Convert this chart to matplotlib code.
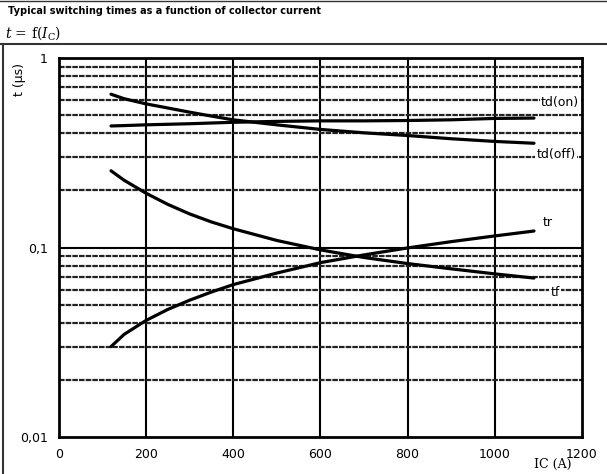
import matplotlib
matplotlib.use("Agg")
import matplotlib.pyplot as plt
from matplotlib.lines import Line2D

# Data
ic = [120, 150, 200, 250, 300, 350, 400, 500, 600, 700, 800, 900, 1000, 1090]
td_off = [0.644, 0.61, 0.573, 0.545, 0.518, 0.494, 0.472, 0.444, 0.42, 0.403, 0.39, 0.375, 0.363, 0.355]
td_on = [0.438, 0.44, 0.444, 0.447, 0.45, 0.454, 0.458, 0.463, 0.466, 0.466, 0.468, 0.472, 0.48, 0.482]
t_r = [0.030, 0.0348, 0.0412, 0.0471, 0.0527, 0.0582, 0.0637, 0.0733, 0.0832, 0.0914, 0.0995, 0.1074, 0.1151, 0.1222]
t_f = [0.254, 0.2265, 0.1936, 0.169, 0.1505, 0.1365, 0.1257, 0.109, 0.0972, 0.0886, 0.0823, 0.0772, 0.0726, 0.069]

x_ticks = [0, 200, 400, 600, 800, 1000, 1200]
y_ticks = [0.01, 0.1, 1]
y_ticklabels = ["0,01", "0,1", "1"]
minor_levels = [m * d for d in (0.01, 0.1) for m in range(2, 10)]

series_labels = ["td(on)", "td(off)", "tr", "tf"]
label_pos = [(1150, 0.58), (1141, 0.309), (1122, 0.135), (1138, 0.058)]

plt.rcParams["font.family"] = ["DejaVu Sans"]
plt.rcParams["mathtext.fontset"] = "dejavuserif"

fig = plt.figure(figsize=(6.07, 4.74), dpi=100)
ax = fig.add_axes([0.0967, 0.078, 0.862, 0.7996])

ax.set_yscale("log")
ax.set_xlim(0, 1200)
ax.set_ylim(0.01, 1)

# grid
for xv in x_ticks[1:-1]:
    ax.axvline(xv, color="black", lw=1.5, zorder=1)
ax.axhline(0.1, color="black", lw=1.5, zorder=1)
for yv in minor_levels:
    ax.axhline(yv, color="#222222", lw=1.6, ls=(0, (2.5, 0.5)), zorder=1)

lw = 2.3
for ys in (td_off, td_on, t_r, t_f):
    ax.plot(ic, ys, color="black", lw=lw, zorder=3, solid_capstyle="round",
            solid_joinstyle="round")

for lab, (xp, yp) in zip(series_labels, label_pos):
    ax.text(xp, yp, lab, ha="center", va="center", fontsize=9, zorder=4,
            bbox=dict(facecolor="white", edgecolor="none", pad=1.0))

ax.set_xticks(x_ticks)
ax.set_xticklabels([str(v) for v in x_ticks], fontsize=9)
ax.set_yticks(y_ticks)
ax.set_yticklabels(y_ticklabels, fontsize=9)
ax.yaxis.set_minor_locator(matplotlib.ticker.NullLocator())
ax.tick_params(axis="both", length=0, pad=8)
for sp in ax.spines.values():
    sp.set_linewidth(2.0)
    sp.set_color("black")

# axis titles
fig.text(20 / 607, 1 - 80 / 474, "t (\u00b5s)", rotation=90, ha="center", va="center", fontsize=9)
fig.text(553 / 607, 1 - 464 / 474, "IC (A)", ha="center", va="center", fontsize=9,
         family="DejaVu Serif")

# header
fig.text(8 / 607, 1 - 11 / 474, "Typical switching times as a function of collector current",
         ha="left", va="center", fontsize=7, fontweight="bold")
fig.text(5 / 607, 1 - 33 / 474, r"$t$ = f($I_{\mathrm{C}}$)", ha="left", va="center",
         fontsize=10, family="DejaVu Serif")

# frame lines
fig.add_artist(Line2D([0, 1], [1 - 0.5 / 474, 1 - 0.5 / 474], transform=fig.transFigure,
                      color="#333333", lw=1.0))
fig.add_artist(Line2D([0, 1], [1 - 44 / 474, 1 - 44 / 474], transform=fig.transFigure,
                      color="#333333", lw=1.5))
fig.add_artist(Line2D([3 / 607, 3 / 607], [0, 1 - 44 / 474], transform=fig.transFigure,
                      color="#333333", lw=1.5))

fig.savefig("out.png", dpi=100)
